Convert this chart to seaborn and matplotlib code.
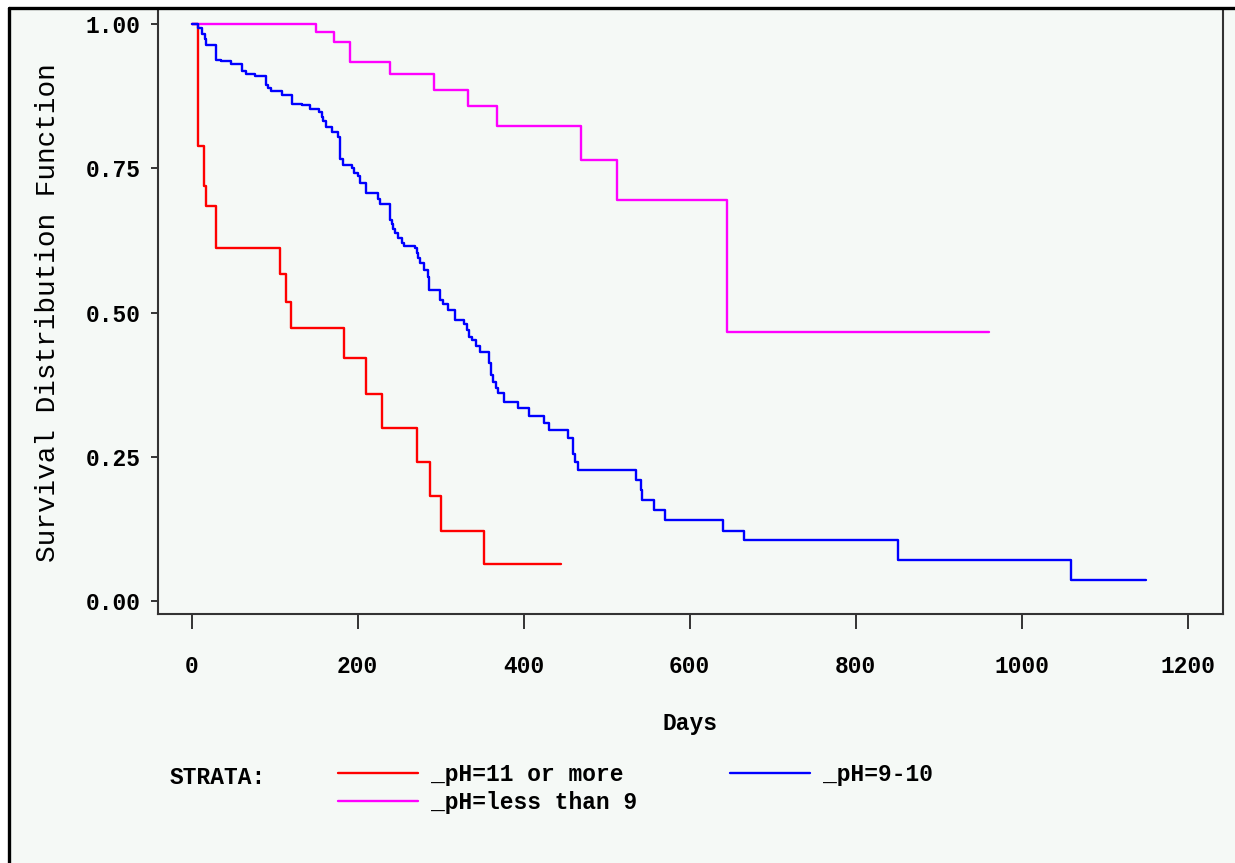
import numpy as np
import pandas as pd
import matplotlib
matplotlib.use("Agg")
import matplotlib.pyplot as plt
import seaborn as sns
from matplotlib.lines import Line2D
from matplotlib.patches import Rectangle

# ---------------- data ----------------
strata = ["_pH=11 or more", "_pH=less than 9", "_pH=9-10"]
colors = ["#ff0000", "#ff00ff", "#0000ff"]

red_days = [0, 8, 15, 17.5, 30, 107, 114, 120, 184, 210, 229.5, 271, 287, 300, 352, 445]
red_surv = [1.0, 0.789, 0.719, 0.685, 0.611, 0.566, 0.518, 0.474, 0.421, 0.359,
            0.300, 0.241, 0.182, 0.122, 0.0646, 0.0646]

mag_days = [0, 150, 172, 191, 239, 292.5, 333.5, 368, 469, 512, 645, 961]
mag_surv = [1.0, 0.986, 0.969, 0.934, 0.914, 0.886, 0.857, 0.823, 0.764, 0.695, 0.466, 0.466]

blue_days = [0, 8, 13, 16, 18, 30, 35, 48, 60.5, 65, 76, 90, 91.5, 96, 109, 121, 133, 143,
             153, 157, 158.5, 162, 169, 177, 179, 183, 193, 196, 200, 203, 210, 225, 226.5,
             239, 241.5, 242.5, 245, 249, 253, 256, 269, 271.5, 273, 275, 280, 285, 286.5,
             299.5, 303, 309, 317, 328, 331.5, 334, 337.5, 343, 348, 358, 361, 363, 367,
             369.5, 376.5, 393.5, 406, 425, 430, 454, 459, 461.5, 466, 535.5, 541, 543,
             557, 570, 640, 665.5, 851.5, 1059, 1149.5]
blue_surv = [1.0, 0.992, 0.983, 0.974, 0.964, 0.938, 0.935, 0.931, 0.918, 0.914, 0.909,
             0.894, 0.889, 0.883, 0.876, 0.862, 0.859, 0.853, 0.848, 0.838, 0.831, 0.822,
             0.813, 0.804, 0.766, 0.756, 0.750, 0.741, 0.736, 0.724, 0.707, 0.697, 0.688,
             0.660, 0.654, 0.644, 0.637, 0.629, 0.621, 0.615, 0.611, 0.603, 0.594, 0.585,
             0.574, 0.562, 0.539, 0.522, 0.514, 0.505, 0.487, 0.480, 0.470, 0.458, 0.453,
             0.442, 0.431, 0.412, 0.392, 0.380, 0.369, 0.360, 0.345, 0.334, 0.321, 0.308,
             0.297, 0.283, 0.255, 0.241, 0.227, 0.210, 0.193, 0.175, 0.158, 0.141, 0.122,
             0.106, 0.0715, 0.037, 0.037]

x_ticks = [0, 200, 400, 600, 800, 1000, 1200]
y_ticks = [0.00, 0.25, 0.50, 0.75, 1.00]
y_tick_labels = ["0.00", "0.25", "0.50", "0.75", "1.00"]

df = pd.concat([
    pd.DataFrame({"Days": red_days, "Survival": red_surv, "Stratum": strata[0]}),
    pd.DataFrame({"Days": mag_days, "Survival": mag_surv, "Stratum": strata[1]}),
    pd.DataFrame({"Days": blue_days, "Survival": blue_surv, "Stratum": strata[2]}),
], ignore_index=True)

# ---------------- style ----------------
sns.set_theme(style="white")
plt.rcParams["font.family"] = ["Liberation Mono", "DejaVu Sans Mono"]
plt.rcParams["text.color"] = "black"

BG = "#f5f9f6"
W, H = 1235, 863
fig = plt.figure(figsize=(W / 100, H / 100), dpi=100, facecolor="white")

# light panel with black top/left outer frame
fig.patches.append(Rectangle((9 / W, 0), 1, 1 - 9 / H, transform=fig.transFigure,
                             facecolor=BG, edgecolor="none", zorder=-10))
fig.lines.append(Line2D([8.5 / W, 1], [1 - 8.5 / H, 1 - 8.5 / H], transform=fig.transFigure,
                        color="black", lw=2.4, zorder=5))
fig.lines.append(Line2D([8.5 / W, 8.5 / W], [0, 1 - 8.5 / H], transform=fig.transFigure,
                        color="black", lw=2.4, zorder=5))

left, right, top, bottom = 157.5, 1222.7, 10, 614.3
ax = fig.add_axes([left / W, 1 - bottom / H, (right - left) / W, (bottom - top) / H])
ax.set_facecolor(BG)

sns.lineplot(data=df, x="Days", y="Survival", hue="Stratum", hue_order=strata,
             palette=colors, estimator=None, sort=False, drawstyle="steps-post",
             linewidth=1.7, legend=False, ax=ax)

ax.set_xlim(-41, 1242)
ax.set_ylim(-0.0225, 1.024)
ax.set_xticks(x_ticks)
ax.set_xticklabels([str(v) for v in x_ticks])
ax.set_yticks(y_ticks)
ax.set_yticklabels(y_tick_labels)

for s in ["left", "bottom", "right", "top"]:
    ax.spines[s].set_color("#333333")
    ax.spines[s].set_linewidth(1.5)
ax.spines["top"].set_visible(False)

ax.tick_params(axis="x", direction="out", length=11, width=1.4, color="#333333",
               pad=18, labelsize=16.5, bottom=True)
ax.tick_params(axis="y", direction="out", length=5, width=1.4, color="#333333",
               pad=7, labelsize=16.5, left=True)
for lab in ax.get_xticklabels() + ax.get_yticklabels():
    lab.set_fontweight("bold")
    lab.set_color("black")

ax.set_xlabel("Days", fontsize=16.5, fontweight="bold", color="black")
ax.xaxis.set_label_coords(0.5, (bottom - 712) / (bottom - top))
ax.set_ylabel("Survival Distribution Function", fontsize=20, fontweight="normal", color="black")
ax.yaxis.set_label_coords((61 - left) / (right - left), 0.5)

# legend
fig.text(170 / W, 1 - 777 / H, "STRATA:", ha="left", va="center",
         fontsize=16.5, fontweight="bold", color="black")
handles = [Line2D([], [], color=c, lw=1.7) for c in colors]
leg = fig.legend(handles=handles, labels=strata, ncol=2, loc="upper left",
                 bbox_to_anchor=(338 / W, 1 - 763 / H), frameon=False,
                 handlelength=3.5, handletextpad=0.55, columnspacing=4.05,
                 labelspacing=0.2, borderpad=0, borderaxespad=0,
                 prop=dict(family=["Liberation Mono", "DejaVu Sans Mono"], weight="bold", size=16.5))
for t in leg.get_texts():
    t.set_color("black")

fig.savefig("out.png", dpi=100, facecolor=fig.get_facecolor())
